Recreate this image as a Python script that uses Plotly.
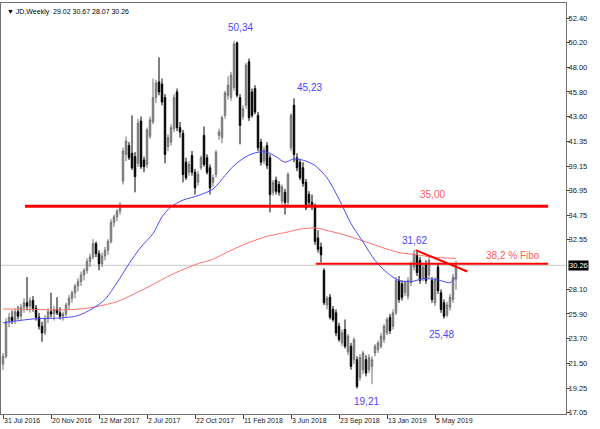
import plotly.graph_objects as go

# ---------------- data ----------------
symbol_title = "▼ JD,Weekly  29.02 30.67 28.07 30.26"

date_labels = ["31 Jul 2016", "20 Nov 2016", "12 Mar 2017", "2 Jul 2017", "22 Oct 2017",
               "11 Feb 2018", "3 Jun 2018", "23 Sep 2018", "13 Jan 2019", "5 May 2019"]
date_label_bars = [0, 16, 32, 48, 64, 80, 96, 112, 128, 144]

price_ticks = [52.40, 50.20, 48.00, 45.80, 43.60, 41.35, 39.15, 36.95, 34.75, 32.55,
               28.10, 25.90, 23.70, 21.50, 19.25, 17.05]

opens = [21.4, 22.1, 25.2, 25.6, 25.3, 26.1, 25.7, 26.5, 26.9, 26.6,
         27.1, 26.4, 25.6, 24.8, 24.2, 25.5, 26.1, 25.9, 26.3, 26.0,
         25.7, 25.9, 26.7, 27.3, 27.8, 28.4, 28.8, 29.4, 29.8, 30.6,
         31.0, 32.2, 31.3, 30.4, 31.1, 31.6, 32.4, 34.1, 34.6, 35.1,
         37.8, 40.2, 41.0, 40.3, 40.0, 39.4, 43.2, 39.7, 39.3, 41.8,
         43.1, 45.3, 46.7, 46.5, 45.3, 40.9, 41.3, 42.5, 45.8, 42.6,
         42.1, 39.5, 38.6, 40.1, 38.6, 37.7, 39.0, 41.9, 39.9, 39.0,
         37.7, 38.4, 41.9, 41.7, 43.7, 45.5, 45.3, 46.2, 50.2, 45.3,
         43.6, 44.6, 48.5, 45.8, 46.1, 43.7, 41.3, 39.6, 41.0, 39.9,
         36.8, 37.9, 37.5, 36.0, 36.8, 35.9, 40.8, 44.6, 39.9, 39.5,
         39.0, 37.7, 36.6, 35.9, 35.5, 32.7, 31.9, 29.8, 26.7, 27.4,
         26.3, 26.0, 24.8, 23.3, 24.5, 22.5, 23.0, 21.8, 21.8, 20.2,
         20.9, 21.8, 20.9, 21.2, 22.4, 22.7, 23.0, 23.6, 24.2, 25.6,
         24.8, 26.0, 28.9, 28.6, 27.8, 27.5, 28.7, 30.1, 31.2, 30.7,
         29.1, 30.4, 29.4, 28.9, 26.9, 30.1, 27.8, 26.9, 25.8, 26.5,
         27.2, 29.02]
highs = [22.4, 25.5, 26.0, 26.2, 26.4, 26.6, 26.8, 27.3, 29.2, 27.4,
         27.5, 26.7, 26.0, 25.2, 25.8, 26.4, 27.8, 26.6, 27.4, 26.5,
         26.1, 26.9, 27.6, 28.0, 28.6, 29.1, 29.7, 30.0, 30.9, 31.3,
         32.6, 32.4, 31.6, 31.4, 31.9, 32.6, 34.4, 34.8, 35.3, 35.9,
         40.8, 41.8, 41.3, 43.7, 40.4, 43.4, 43.6, 40.0, 42.6, 43.6,
         47.0, 46.9, 48.9, 47.0, 45.6, 42.0, 42.9, 45.6, 46.1, 43.1,
         42.4, 39.9, 39.6, 40.5, 38.9, 38.7, 40.1, 42.7, 40.2, 39.3,
         38.4, 40.6, 42.5, 43.7, 45.9, 47.2, 47.6, 50.34, 50.3, 45.6,
         44.6, 48.4, 48.8, 46.1, 46.4, 44.0, 41.6, 40.9, 41.3, 40.2,
         37.9, 38.2, 37.8, 37.5, 37.1, 38.6, 43.9, 45.23, 40.3, 39.8,
         39.5, 38.0, 36.9, 36.6, 35.8, 33.4, 32.3, 30.0, 27.5, 27.7,
         26.6, 26.3, 25.1, 24.5, 25.4, 24.1, 23.3, 23.8, 22.1, 22.3,
         22.6, 22.2, 22.3, 22.1, 23.2, 23.5, 24.2, 25.0, 25.6, 25.9,
         26.3, 29.2, 29.3, 28.9, 28.9, 29.2, 30.6, 31.62, 31.5, 31.0,
         30.4, 30.7, 31.0, 29.2, 29.2, 30.4, 28.1, 27.2, 27.0, 27.7,
         29.5, 30.67]
lows = [20.9, 21.9, 24.7, 25.0, 25.0, 25.4, 25.3, 26.0, 26.2, 26.0,
        26.1, 25.3, 24.5, 23.4, 24.0, 25.1, 25.6, 25.3, 25.8, 25.4,
        25.3, 25.6, 26.3, 26.9, 27.3, 27.9, 28.4, 28.9, 29.5, 30.1,
        30.8, 31.0, 29.8, 30.1, 30.7, 31.2, 32.2, 33.7, 34.2, 34.8,
        37.5, 39.6, 39.7, 38.8, 36.8, 39.1, 38.9, 38.6, 39.0, 41.6,
        42.9, 44.8, 45.5, 44.6, 39.4, 40.5, 41.0, 42.2, 42.3, 41.7,
        37.7, 37.9, 38.3, 38.3, 36.6, 37.4, 38.8, 39.1, 38.4, 36.6,
        37.3, 38.1, 41.5, 41.2, 43.4, 45.1, 45.0, 45.9, 45.3, 41.1,
        43.3, 44.3, 43.2, 43.5, 43.8, 40.5, 39.2, 39.3, 38.9, 35.0,
        36.5, 36.6, 36.5, 35.7, 34.8, 35.6, 40.5, 39.5, 38.7, 37.9,
        37.3, 35.2, 35.6, 35.2, 32.1, 31.4, 30.5, 26.7, 26.3, 25.4,
        25.2, 23.9, 23.4, 23.0, 22.8, 22.2, 20.9, 21.4, 19.21, 19.9,
        20.5, 20.3, 20.6, 19.6, 22.1, 22.4, 22.8, 23.3, 24.0, 24.1,
        24.5, 25.8, 26.9, 27.1, 27.5, 27.2, 28.4, 29.8, 29.3, 28.6,
        28.8, 28.6, 29.1, 26.9, 26.6, 27.7, 26.0, 25.48, 25.6, 26.2,
        26.9, 28.07]
closes = [22.1, 25.2, 25.6, 25.3, 26.1, 25.7, 26.5, 26.9, 26.6, 27.1,
          26.4, 25.6, 24.8, 24.2, 25.5, 26.1, 25.9, 26.3, 26.0, 25.7,
          25.9, 26.7, 27.3, 27.8, 28.4, 28.8, 29.4, 29.8, 30.6, 31.0,
          32.2, 31.3, 30.4, 31.1, 31.6, 32.4, 34.1, 34.6, 35.1, 35.7,
          40.5, 41.4, 39.9, 39.0, 38.2, 43.0, 39.1, 39.1, 42.4, 43.3,
          45.3, 46.6, 45.8, 44.9, 40.2, 41.7, 42.6, 45.3, 42.6, 42.2,
          38.4, 38.1, 39.3, 38.6, 37.2, 38.4, 39.9, 39.3, 38.6, 37.2,
          38.1, 40.4, 42.2, 43.5, 45.7, 46.4, 47.3, 50.1, 45.5, 42.8,
          44.3, 48.2, 43.5, 43.7, 44.0, 40.8, 39.5, 40.6, 39.2, 36.6,
          37.7, 36.9, 36.8, 37.3, 35.9, 38.4, 43.7, 40.2, 39.0, 38.1,
          37.6, 35.4, 35.9, 35.6, 32.4, 31.7, 31.2, 26.9, 27.3, 25.6,
          25.4, 24.2, 23.6, 24.2, 23.0, 23.9, 21.2, 23.6, 19.4, 22.0,
          22.4, 20.6, 22.0, 21.8, 23.0, 23.3, 23.9, 24.8, 25.4, 24.4,
          26.0, 28.9, 27.2, 27.4, 28.7, 28.9, 30.4, 31.3, 29.6, 28.9,
          30.1, 28.9, 30.7, 27.2, 28.9, 28.0, 26.3, 25.7, 26.7, 27.4,
          29.2, 30.26]

fast_ma_bars = [0, 10, 20, 25, 30, 34, 38, 42, 46, 50, 53, 56, 60, 65, 70, 74, 77, 81,
                85, 88, 91, 94, 97, 101, 104, 108, 112, 116, 120, 124, 128, 132, 136,
                140, 144, 147, 149, 151]
fast_ma_vals = [25.1, 25.45, 25.55, 25.75, 26.4, 27.2, 28.7, 30.4, 31.9, 33.1, 34.6, 35.5,
                36.1, 36.5, 37.1, 38.3, 39.2, 40.0, 40.4, 40.4, 40.0, 39.5, 39.8, 39.6,
                39.2, 38.1, 36.2, 34.0, 32.35, 30.7, 29.6, 28.9, 28.8, 29.05, 29.0, 28.8,
                28.7, 29.2]
slow_ma_bars = [0, 10, 21, 29, 38, 43, 49, 56, 62, 66, 69, 76, 82, 88, 95, 99, 104, 110,
                116, 121, 127, 132, 138, 143, 151]
slow_ma_vals = [26.35, 26.3, 26.27, 26.45, 27.0, 27.6, 28.4, 29.4, 30.1, 30.5, 30.7, 31.6,
                32.3, 32.85, 33.25, 33.5, 33.6, 33.25, 32.8, 32.35, 31.8, 31.4, 31.2,
                31.0, 30.88]

# drawn objects (levels in price, anchors in bar index)
resistance_level = 35.55
resistance_span = [7.3, 181.7]
fibo_level = 30.4
fibo_span = [104.3, 181.7]
trend_bars = [137.5, 154.8]
trend_prices = [31.62, 29.70]
last_price = 30.26

value_labels = ["50,34", "45,23", "31,62", "25,48", "19,21"]
value_label_bars = [79.0, 102.3, 137.3, 146.3, 121.3]
value_label_prices = [51.6, 46.2, 32.5, 24.1, 18.05]

level_labels = ["35,00", "38,2 % Fibo"]
level_label_bars = [143.0, 170.0]
level_label_prices = [36.57, 31.1]

# ---------------- figure ----------------
bars = list(range(len(closes)))
FONT = "Liberation Sans, Arial, sans-serif"

fig = go.Figure()

fig.add_trace(go.Candlestick(
    x=bars, open=opens, high=highs, low=lows, close=closes,
    increasing=dict(line=dict(color="#707070", width=1), fillcolor="#a6a6a6"),
    decreasing=dict(line=dict(color="#000000", width=1), fillcolor="#000000"),
    whiskerwidth=0, showlegend=False, hoverinfo="skip"))

fig.add_trace(go.Scatter(x=slow_ma_bars, y=slow_ma_vals, mode="lines",
                         line=dict(color="#ff7070", width=1, shape="spline", smoothing=0.8),
                         showlegend=False, hoverinfo="skip"))
fig.add_trace(go.Scatter(x=fast_ma_bars, y=fast_ma_vals, mode="lines",
                         line=dict(color="#4a4aff", width=1, shape="spline", smoothing=0.8),
                         showlegend=False, hoverinfo="skip"))

# price line
fig.add_shape(type="line", xref="paper", x0=0, x1=1, yref="y", y0=last_price, y1=last_price,
              line=dict(color="#c8c8c8", width=1), layer="below")

fig.add_trace(go.Scatter(x=resistance_span, y=[resistance_level] * 2, mode="lines",
                         line=dict(color="#ff0000", width=3), showlegend=False, hoverinfo="skip"))
fig.add_trace(go.Scatter(x=fibo_span, y=[fibo_level] * 2, mode="lines",
                         line=dict(color="#ff0000", width=2), showlegend=False, hoverinfo="skip"))
fig.add_trace(go.Scatter(x=trend_bars, y=trend_prices, mode="lines",
                         line=dict(color="#ff0000", width=2), showlegend=False, hoverinfo="skip"))

for t, xb, yp in zip(value_labels, value_label_bars, value_label_prices):
    fig.add_annotation(x=xb, y=yp, text=t, showarrow=False,
                       font=dict(family=FONT, size=10, color="#4646ff"))
for t, xb, yp in zip(level_labels, level_label_bars, level_label_prices):
    fig.add_annotation(x=xb, y=yp, text=t, showarrow=False,
                       font=dict(family=FONT, size=10, color="#ff5a5a"))

fig.add_annotation(xref="paper", yref="paper", x=0, y=1, xanchor="left", yanchor="top",
                   xshift=4, yshift=-3, text=symbol_title, showarrow=False,
                   font=dict(family=FONT, size=7, color="#000000"))

fig.add_annotation(xref="paper", yref="y", x=1, y=last_price, xanchor="left", yanchor="middle",
                   xshift=2, text=f"{last_price:.2f}", showarrow=False, bgcolor="#000000",
                   borderpad=0, font=dict(family=FONT, size=7.5, color="#ffffff"))

fig.update_layout(
    width=600, height=429,
    margin=dict(l=1, r=34, t=3, b=15, autoexpand=False),
    paper_bgcolor="#ffffff", plot_bgcolor="#ffffff",
    showlegend=False,
    xaxis=dict(range=[-0.667, 187.667], rangeslider=dict(visible=False),
               tickvals=date_label_bars, ticktext=date_labels,
               ticklabelposition="outside right", tickangle=0, automargin=False,
               ticks="outside", ticklen=4, tickcolor="#404040",
               showgrid=False, zeroline=False, showline=True, mirror=True,
               linecolor="#707070", linewidth=1,
               tickfont=dict(family=FONT, size=7, color="#202020")),
    yaxis=dict(range=[16.93, 53.77], side="right", automargin=False,
               tickvals=price_ticks, ticktext=[f"{v:.2f}" for v in price_ticks],
               ticks="outside", ticklen=3, tickcolor="#404040", ticklabelstandoff=-3,
               showgrid=False, zeroline=False, showline=True, mirror=True,
               linecolor="#707070", linewidth=1,
               tickfont=dict(family=FONT, size=7.5, color="#202020")),
)

fig.write_html("out.html", config={"displayModeBar": False},
               post_script="document.body.style.margin='0';document.body.style.overflow='hidden';")
